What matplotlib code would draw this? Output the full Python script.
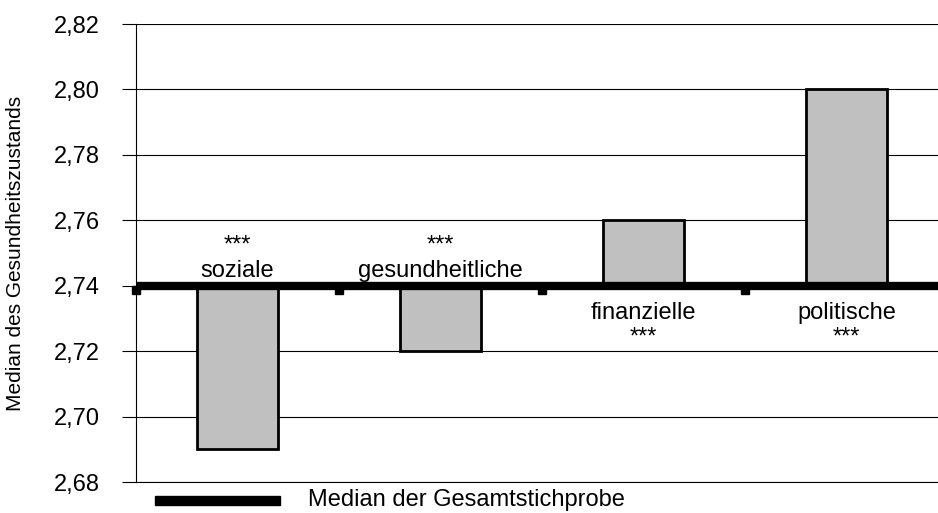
import matplotlib.pyplot as plt
import numpy as np

plt.rcParams['font.family'] = ['Liberation Sans', 'DejaVu Sans']

categories = ['soziale', 'gesundheitliche', 'finanzielle', 'politische']
values = [2.69, 2.72, 2.76, 2.80]
stars = ['***', '***', '***', '***']
median_total = 2.74
yticks = [2.68, 2.70, 2.72, 2.74, 2.76, 2.78, 2.80, 2.82]

fig = plt.figure(figsize=(9.38, 5.13), dpi=100)
ax = fig.add_axes([136 / 938, 1 - 482 / 513, 812 / 938, 458 / 513])

x = np.arange(len(categories))
heights = [v - median_total for v in values]
ax.bar(x, heights, bottom=median_total, width=0.4, color='#c0c0c0',
       edgecolor='black', linewidth=2, zorder=3)

ax.axhline(median_total, color='black', linewidth=6, zorder=4)
bounds = np.arange(len(categories)) - 0.5
ax.plot(bounds, [median_total - 0.0012] * len(bounds), 's', color='black',
        markersize=6, zorder=4, clip_on=False)

fs = 17
for xi, v, cat, st in zip(x, values, categories, stars):
    if v < median_total:
        ax.text(xi, 2.7412, cat, ha='center', va='bottom', fontsize=fs, zorder=5)
        ax.text(xi, 2.7522, st, ha='center', va='center', fontsize=fs, zorder=5)
    else:
        ax.text(xi, 2.7318, cat, ha='center', va='center', fontsize=fs, zorder=5)
        ax.text(xi, 2.7243, st, ha='center', va='center', fontsize=fs, zorder=5)

ax.set_xlim(-0.5, 3.5)
ax.set_ylim(2.68, 2.82)
ax.set_yticks(yticks)
ax.set_yticklabels([f'{t:.2f}'.replace('.', ',') for t in yticks], fontsize=fs)
ax.yaxis.grid(True, color='black', linewidth=0.8)
ax.set_axisbelow(True)
ax.tick_params(axis='y', length=10, width=0.8, pad=16)
ax.set_xticks([])
for s in ['top', 'right']:
    ax.spines[s].set_visible(False)
ax.spines['bottom'].set_linewidth(0.8)
ax.spines['left'].set_linewidth(0.8)
ax.set_ylabel('Median des Gesundheitszustands', fontsize=15, labelpad=21)

# legend
fig.add_artist(plt.Rectangle((155 / 938, 1 - 505 / 513), 125 / 938, 9 / 513,
                             color='black', transform=fig.transFigure))
fig.text(308 / 938, 1 - 500 / 513, 'Median der Gesamtstichprobe',
         fontsize=fs, va='center', ha='left')

fig.savefig('out.png', dpi=100)
